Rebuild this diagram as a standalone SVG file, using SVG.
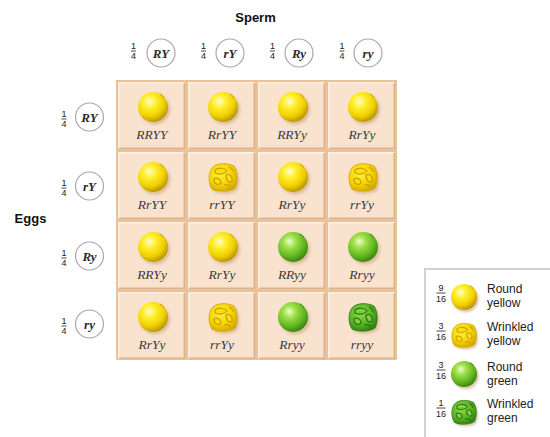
<svg xmlns="http://www.w3.org/2000/svg" width="550" height="437" viewBox="0 0 550 437">
  <style>
    .head { font-family: "Liberation Sans", Arial, sans-serif; font-weight: bold; font-size: 13px; fill: #111; }
    .frac { font-family: "Liberation Sans", Arial, sans-serif; font-size: 9px; fill: #222; text-anchor: middle; }
    .fracline { stroke: #333; stroke-width: 0.9; }
    .gamete circle { fill: #fff; stroke: #a8a8a8; stroke-width: 1.2; }
    .gamete text.g { font-family: "Liberation Serif", "Times New Roman", serif; font-style: italic; font-weight: bold; font-size: 13px; fill: #2a2a2a; text-anchor: middle; }
    .geno { font-family: "Liberation Serif", "Times New Roman", serif; font-style: italic; font-size: 13.5px; fill: #3a3a3a; text-anchor: middle; }
    .cell { fill: #f9e3cf; }
    .hi { stroke: #fdf1e6; stroke-width: 1.5; fill: none; }
    .sh { stroke: #deb38c; stroke-width: 1.5; fill: none; }
    .legend { font-family: "Liberation Sans", Arial, sans-serif; font-size: 12px; fill: #222; }
  </style>
  <defs>
    <radialGradient id="gy" cx="0.38" cy="0.32" r="0.7">
      <stop offset="0" stop-color="#fffbd6"/>
      <stop offset="0.3" stop-color="#fff030"/>
      <stop offset="0.7" stop-color="#f0d000"/>
      <stop offset="1" stop-color="#b89400"/>
    </radialGradient>
    <radialGradient id="gg" cx="0.38" cy="0.32" r="0.7">
      <stop offset="0" stop-color="#eaffc8"/>
      <stop offset="0.3" stop-color="#9fe04a"/>
      <stop offset="0.7" stop-color="#62b822"/>
      <stop offset="1" stop-color="#3a8410"/>
    </radialGradient>
    <radialGradient id="gwy" cx="0.4" cy="0.35" r="0.7">
      <stop offset="0" stop-color="#fff24a"/>
      <stop offset="0.6" stop-color="#f3d300"/>
      <stop offset="1" stop-color="#cfa600"/>
    </radialGradient>
    <radialGradient id="gwg" cx="0.4" cy="0.35" r="0.7">
      <stop offset="0" stop-color="#8fdc48"/>
      <stop offset="0.6" stop-color="#56b224"/>
      <stop offset="1" stop-color="#2f7c14"/>
    </radialGradient>
    <filter id="soft" x="-50%" y="-50%" width="200%" height="200%">
      <feGaussianBlur stdDeviation="1.5"/>
    </filter>

    <!-- round yellow pea -->
    <g id="peaRY">
      <circle cx="2" cy="2.5" r="15" fill="#c49a70" opacity="0.55" filter="url(#soft)"/>
      <circle r="15" fill="url(#gy)"/>
      <path d="M7,-13 q3,1 4,4" stroke="#c9a400" stroke-width="1" fill="none"/>
    </g>
    <!-- round green pea -->
    <g id="peaRG">
      <circle cx="2" cy="2.5" r="15" fill="#c49a70" opacity="0.55" filter="url(#soft)"/>
      <circle r="15" fill="url(#gg)"/>
      <path d="M7,-13 q3,1 4,4" stroke="#3f8a14" stroke-width="1" fill="none"/>
    </g>
    <!-- wrinkled yellow pea -->
    <g id="peaWY">
      <path d="M-11,-9 C-6,-15 5,-14 11,-11 C15,-5 15,5 12,11 C6,15 -5,15 -11,12 C-15,6 -15,-4 -11,-9 Z" transform="translate(2,2.5)" fill="#c49a70" opacity="0.55" filter="url(#soft)"/>
      <path d="M-11,-9 C-6,-15 5,-14 11,-11 C15,-5 15,5 12,11 C6,15 -5,15 -11,12 C-15,6 -15,-4 -11,-9 Z" fill="url(#gwy)" stroke="#d2a600" stroke-width="0.8"/>
      <g fill="#f8e010" stroke="#d09c00" stroke-width="1.2">
        <path d="M-8,-7 C-4,-10 2,-9 4,-6 C2,-3 -4,-2 -8,-4 Z"/>
        <path d="M3,-2 C7,-4 10,0 9,4 C6,6 3,4 3,-2 Z"/>
        <path d="M-9,2 C-6,0 -2,2 -2,6 C-5,9 -9,7 -9,2 Z"/>
        <path d="M1,8 C4,7 7,8 7,10" fill="none"/>
        <path d="M6,-10 C8,-9 10,-7 10,-5" fill="none"/>
      </g>
    </g>
    <!-- wrinkled green pea -->
    <g id="peaWG">
      <path d="M-11,-9 C-6,-15 5,-14 11,-11 C15,-5 15,5 12,11 C6,15 -5,15 -11,12 C-15,6 -15,-4 -11,-9 Z" transform="translate(2,2.5)" fill="#c49a70" opacity="0.55" filter="url(#soft)"/>
      <path d="M-11,-9 C-6,-15 5,-14 11,-11 C15,-5 15,5 12,11 C6,15 -5,15 -11,12 C-15,6 -15,-4 -11,-9 Z" fill="url(#gwg)" stroke="#2f7a12" stroke-width="0.8"/>
      <g fill="#7ed040" stroke="#2c7410" stroke-width="1.2">
        <path d="M-8,-7 C-4,-10 2,-9 4,-6 C2,-3 -4,-2 -8,-4 Z"/>
        <path d="M3,-2 C7,-4 10,0 9,4 C6,6 3,4 3,-2 Z"/>
        <path d="M-9,2 C-6,0 -2,2 -2,6 C-5,9 -9,7 -9,2 Z"/>
        <path d="M1,8 C4,7 7,8 7,10" fill="none"/>
        <path d="M6,-10 C8,-9 10,-7 10,-5" fill="none"/>
      </g>
    </g>

    <!-- one Punnett square cell, 67 x 67 -->
    <g id="cellbox">
      <rect class="cell" x="0" y="0" width="67" height="67"/>
      <path class="hi" d="M0.75,66 V0.75 H66"/>
      <path class="sh" d="M1,66.25 H66.25 V1"/>
    </g>
  </defs>

  <rect width="550" height="437" fill="#fff"/>

  <!-- headings -->
  <text class="head" x="255.5" y="22" text-anchor="middle">Sperm</text>
  <text class="head" x="30.5" y="223" text-anchor="middle">Eggs</text>

  <!-- sperm gametes -->
  <g id="sperm-RY" class="gamete">
    <text class="frac" x="133.5" y="49">1</text><line class="fracline" x1="131" y1="51" x2="136" y2="51"/><text class="frac" x="133.5" y="59">4</text>
    <circle cx="161" cy="53" r="14"/><text class="g" x="161" y="57.5">RY</text>
  </g>
  <g id="sperm-rY" class="gamete">
    <text class="frac" x="203.5" y="49">1</text><line class="fracline" x1="201" y1="51" x2="206" y2="51"/><text class="frac" x="203.5" y="59">4</text>
    <circle cx="230" cy="53" r="14"/><text class="g" x="230" y="57.5">rY</text>
  </g>
  <g id="sperm-Ry" class="gamete">
    <text class="frac" x="272.5" y="49">1</text><line class="fracline" x1="270" y1="51" x2="275" y2="51"/><text class="frac" x="272.5" y="59">4</text>
    <circle cx="299" cy="53" r="14"/><text class="g" x="299" y="57.5">Ry</text>
  </g>
  <g id="sperm-ry" class="gamete">
    <text class="frac" x="342" y="49">1</text><line class="fracline" x1="339.5" y1="51" x2="344.5" y2="51"/><text class="frac" x="342" y="59">4</text>
    <circle cx="368" cy="53" r="14"/><text class="g" x="368" y="57.5">ry</text>
  </g>

  <!-- egg gametes -->
  <g id="egg-RY" class="gamete">
    <text class="frac" x="64" y="117">1</text><line class="fracline" x1="61.5" y1="119" x2="66.5" y2="119"/><text class="frac" x="64" y="127">4</text>
    <circle cx="89.5" cy="117" r="14"/><text class="g" x="89.5" y="121.5">RY</text>
  </g>
  <g id="egg-rY" class="gamete">
    <text class="frac" x="64" y="186">1</text><line class="fracline" x1="61.5" y1="188" x2="66.5" y2="188"/><text class="frac" x="64" y="196">4</text>
    <circle cx="89.5" cy="186" r="14"/><text class="g" x="89.5" y="190.5">rY</text>
  </g>
  <g id="egg-Ry" class="gamete">
    <text class="frac" x="64" y="256">1</text><line class="fracline" x1="61.5" y1="258" x2="66.5" y2="258"/><text class="frac" x="64" y="266">4</text>
    <circle cx="89.5" cy="256" r="14"/><text class="g" x="89.5" y="260.5">Ry</text>
  </g>
  <g id="egg-ry" class="gamete">
    <text class="frac" x="64" y="324">1</text><line class="fracline" x1="61.5" y1="326" x2="66.5" y2="326"/><text class="frac" x="64" y="334">4</text>
    <circle cx="89.5" cy="324" r="14"/><text class="g" x="89.5" y="328.5">ry</text>
  </g>

  <!-- Punnett square -->
  <rect x="116" y="80" width="281" height="280" fill="#e9c29c"/>
  <g id="grid">
    <!-- row 1 -->
    <g id="c11" transform="translate(118,82)"><use href="#cellbox"/><use href="#peaRY" x="35" y="25"/><text class="geno" x="34" y="57">RRYY</text></g>
    <g id="c12" transform="translate(188,82)"><use href="#cellbox"/><use href="#peaRY" x="35" y="25"/><text class="geno" x="34" y="57">RrYY</text></g>
    <g id="c13" transform="translate(258,82)"><use href="#cellbox"/><use href="#peaRY" x="35" y="25"/><text class="geno" x="34" y="57">RRYy</text></g>
    <g id="c14" transform="translate(328,82)"><use href="#cellbox"/><use href="#peaRY" x="35" y="25"/><text class="geno" x="34" y="57">RrYy</text></g>
    <!-- row 2 -->
    <g id="c21" transform="translate(118,152)"><use href="#cellbox"/><use href="#peaRY" x="35" y="25"/><text class="geno" x="34" y="57">RrYY</text></g>
    <g id="c22" transform="translate(188,152)"><use href="#cellbox"/><use href="#peaWY" x="35" y="25"/><text class="geno" x="34" y="57">rrYY</text></g>
    <g id="c23" transform="translate(258,152)"><use href="#cellbox"/><use href="#peaRY" x="35" y="25"/><text class="geno" x="34" y="57">RrYy</text></g>
    <g id="c24" transform="translate(328,152)"><use href="#cellbox"/><use href="#peaWY" x="35" y="25"/><text class="geno" x="34" y="57">rrYy</text></g>
    <!-- row 3 -->
    <g id="c31" transform="translate(118,222)"><use href="#cellbox"/><use href="#peaRY" x="35" y="25"/><text class="geno" x="34" y="57">RRYy</text></g>
    <g id="c32" transform="translate(188,222)"><use href="#cellbox"/><use href="#peaRY" x="35" y="25"/><text class="geno" x="34" y="57">RrYy</text></g>
    <g id="c33" transform="translate(258,222)"><use href="#cellbox"/><use href="#peaRG" x="35" y="25"/><text class="geno" x="34" y="57">RRyy</text></g>
    <g id="c34" transform="translate(328,222)"><use href="#cellbox"/><use href="#peaRG" x="35" y="25"/><text class="geno" x="34" y="57">Rryy</text></g>
    <!-- row 4 -->
    <g id="c41" transform="translate(118,292)"><use href="#cellbox"/><use href="#peaRY" x="35" y="25"/><text class="geno" x="34" y="57">RrYy</text></g>
    <g id="c42" transform="translate(188,292)"><use href="#cellbox"/><use href="#peaWY" x="35" y="25"/><text class="geno" x="34" y="57">rrYy</text></g>
    <g id="c43" transform="translate(258,292)"><use href="#cellbox"/><use href="#peaRG" x="35" y="25"/><text class="geno" x="34" y="57">Rryy</text></g>
    <g id="c44" transform="translate(328,292)"><use href="#cellbox"/><use href="#peaWG" x="35" y="25"/><text class="geno" x="34" y="57">rryy</text></g>
  </g>

  <!-- legend -->
  <g id="legend">
    <path d="M425,437 V269 H550" fill="none" stroke="#d2d2d2" stroke-width="2"/>
    <g id="leg-round-yellow">
      <text class="frac" x="441" y="291">9</text><line class="fracline" x1="436.5" y1="293" x2="445.5" y2="293"/><text class="frac" x="441" y="302">16</text>
      <use href="#peaRY" transform="translate(464,297) scale(0.87)"/>
      <text class="legend" x="487" y="293">Round</text><text class="legend" x="487" y="307">yellow</text>
    </g>
    <g id="leg-wrinkled-yellow">
      <text class="frac" x="441" y="329">3</text><line class="fracline" x1="436.5" y1="331" x2="445.5" y2="331"/><text class="frac" x="441" y="340">16</text>
      <use href="#peaWY" transform="translate(464,335) scale(0.87)"/>
      <text class="legend" x="487" y="331">Wrinkled</text><text class="legend" x="487" y="345">yellow</text>
    </g>
    <g id="leg-round-green">
      <text class="frac" x="441" y="368">3</text><line class="fracline" x1="436.5" y1="370" x2="445.5" y2="370"/><text class="frac" x="441" y="379">16</text>
      <use href="#peaRG" transform="translate(464,374) scale(0.87)"/>
      <text class="legend" x="487" y="371">Round</text><text class="legend" x="487" y="385">green</text>
    </g>
    <g id="leg-wrinkled-green">
      <text class="frac" x="441" y="406">1</text><line class="fracline" x1="436.5" y1="408" x2="445.5" y2="408"/><text class="frac" x="441" y="417">16</text>
      <use href="#peaWG" transform="translate(464,412) scale(0.87)"/>
      <text class="legend" x="487" y="408">Wrinkled</text><text class="legend" x="487" y="422">green</text>
    </g>
  </g>
</svg>
